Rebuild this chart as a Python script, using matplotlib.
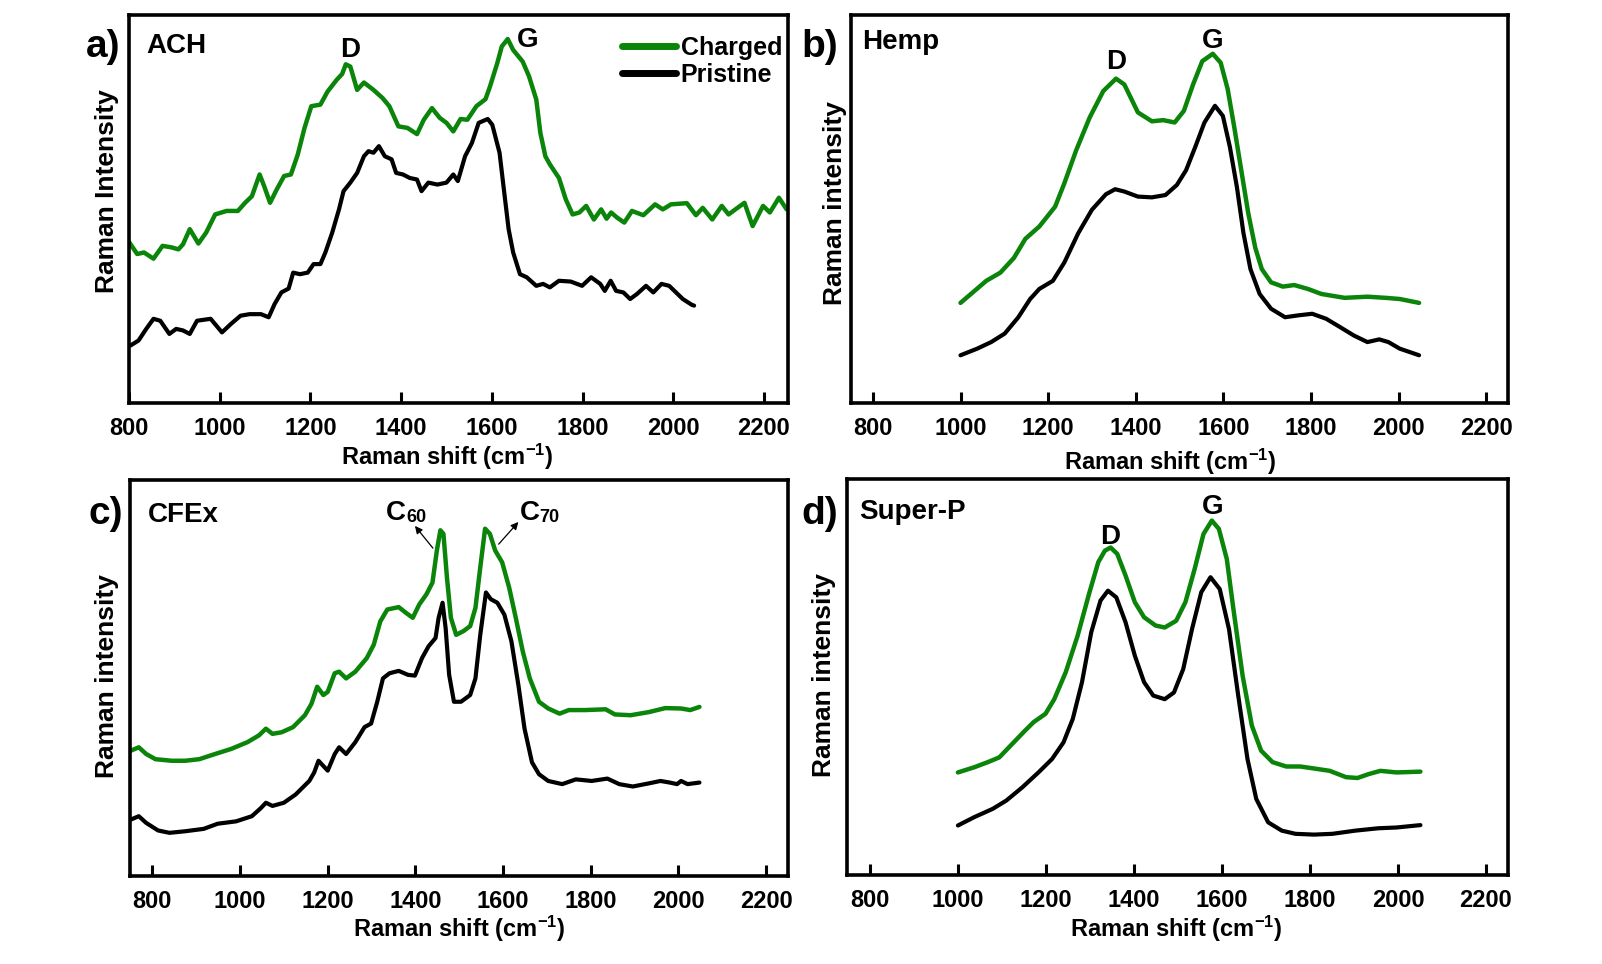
import matplotlib
matplotlib.use("Agg")
import matplotlib.pyplot as plt
from matplotlib.lines import Line2D

plt.rcParams['font.family'] = ['Liberation Sans', 'DejaVu Sans']
plt.rcParams['font.weight'] = 'bold'
plt.rcParams['mathtext.fontset'] = 'custom'
plt.rcParams['mathtext.rm'] = 'Liberation Sans:bold'
plt.rcParams['mathtext.bf'] = 'Liberation Sans:bold'
plt.rcParams['mathtext.default'] = 'bf'

GREEN = '#0a850a'
BLACK = '#000000'

# ---------------- Panel a) ACH ----------------
a_charged_x = [800, 818, 833, 854, 874, 894, 909, 919, 934, 953, 970, 990, 1015, 1040, 1056, 1071, 1088,
               1098, 1111, 1126, 1142, 1157, 1172, 1187, 1202, 1222, 1238, 1258, 1270, 1278, 1288, 1303,
               1318, 1339, 1359, 1374, 1394, 1414, 1435, 1450, 1468, 1485, 1500, 1515, 1531, 1546, 1566,
               1586, 1596, 1612, 1622, 1635, 1647, 1668, 1682, 1698, 1707, 1718, 1728, 1748, 1763, 1778,
               1793, 1808, 1825, 1841, 1853, 1863, 1876, 1892, 1909, 1934, 1960, 1977, 1995, 2030, 2050,
               2065, 2086, 2107, 2122, 2137, 2157, 2175, 2198, 2213, 2233, 2250]
a_charged_y = [41.5, 38.4, 38.8, 37.2, 40.5, 40.1, 39.6, 40.9, 44.8, 41.1, 43.9, 48.6, 49.5, 49.5, 51.6,
               53.3, 58.9, 55.9, 51.6, 55.1, 58.5, 58.9, 64.0, 70.9, 76.5, 76.9, 80.3, 83.3, 84.8, 87.3,
               86.7, 80.7, 82.6, 80.7, 78.6, 76.5, 71.3, 70.9, 69.3, 73.0, 76.0, 73.5, 72.2, 70.0, 73.2,
               73.0, 76.5, 78.3, 81.6, 87.6, 91.9, 93.8, 91.0, 88.0, 84.2, 78.2, 69.6, 63.6, 61.5, 58.0,
               52.5, 48.6, 49.1, 50.8, 47.3, 49.9, 47.5, 49.1, 47.8, 46.5, 49.5, 48.4, 51.2, 49.9, 51.2,
               51.5, 48.4, 50.3, 47.3, 50.8, 48.6, 49.9, 51.6, 45.6, 50.8, 49.1, 52.9, 49.9]
a_pristine_x = [803, 821, 838, 854, 869, 889, 904, 919, 934, 950, 980, 1005, 1025, 1046, 1066, 1091, 1108,
                1121, 1136, 1152, 1162, 1177, 1194, 1207, 1222, 1233, 1248, 1263, 1273, 1288, 1303, 1318,
                1328, 1339, 1351, 1364, 1379, 1389, 1404, 1419, 1435, 1445, 1460, 1480, 1500, 1515, 1525,
                1541, 1556, 1571, 1591, 1601, 1617, 1627, 1637, 1647, 1662, 1677, 1698, 1713, 1728, 1748,
                1774, 1799, 1819, 1839, 1849, 1862, 1874, 1890, 1905, 1920, 1940, 1956, 1974, 1991, 2006,
                2021, 2041, 2046]
a_pristine_y = [14.8, 16.1, 19.1, 21.7, 21.2, 17.8, 19.1, 18.7, 17.8, 21.2, 21.7, 18.2, 20.4, 22.5, 22.9,
                22.9, 22.1, 25.5, 28.5, 29.5, 33.6, 33.2, 33.6, 35.8, 35.8, 38.8, 43.9, 49.9, 54.6, 56.8,
                59.3, 63.6, 64.9, 64.5, 66.2, 63.6, 62.8, 59.3, 58.9, 58.0, 57.6, 54.6, 56.8, 56.3, 56.8,
                58.9, 57.2, 63.6, 67.0, 72.2, 73.2, 71.7, 64.5, 54.6, 44.8, 38.8, 33.2, 32.4, 30.2, 30.7,
                29.8, 31.5, 31.3, 30.2, 32.4, 30.7, 28.9, 31.5, 28.9, 28.5, 26.8, 28.1, 30.2, 28.5, 30.7,
                30.2, 28.5, 26.8, 25.3, 25.1]

# ---------------- Panel b) Hemp ----------------
b_charged_x = [1000, 1028, 1059, 1091, 1122, 1148, 1180, 1216, 1237, 1264, 1295, 1326, 1355, 1374, 1405,
               1437, 1463, 1489, 1510, 1531, 1552, 1576, 1594, 1610, 1625, 1641, 1657, 1673, 1688, 1709,
               1736, 1762, 1793, 1824, 1877, 1929, 1971, 2003, 2047]
b_charged_y = [25.8, 28.5, 31.5, 33.6, 37.4, 42.3, 45.5, 50.6, 56.6, 65.1, 73.6, 80.4, 83.6, 82.1, 74.9,
               72.6, 72.9, 72.3, 75.3, 82.1, 88.1, 90.0, 87.7, 80.9, 71.1, 60.0, 48.9, 40.0, 34.5, 31.1,
               30.0, 30.4, 29.4, 28.1, 27.1, 27.4, 27.1, 26.8, 25.8]
b_pristine_x = [1000, 1038, 1070, 1101, 1132, 1159, 1180, 1211, 1237, 1269, 1300, 1332, 1353, 1374, 1405,
                1437, 1468, 1494, 1515, 1536, 1557, 1581, 1599, 1615, 1631, 1646, 1662, 1683, 1709, 1741,
                1772, 1803, 1835, 1866, 1898, 1929, 1956, 1977, 2003, 2047]
b_pristine_y = [12.3, 14.0, 15.7, 17.9, 22.1, 26.8, 29.4, 31.5, 36.2, 43.8, 49.8, 53.8, 55.1, 54.5, 53.2,
                53.0, 53.6, 56.2, 60.0, 66.0, 72.3, 76.6, 74.0, 66.0, 55.7, 43.8, 34.5, 28.1, 24.3, 22.1,
                22.6, 23.0, 21.7, 19.6, 17.4, 15.7, 16.4, 15.7, 14.0, 12.3]

# ---------------- Panel c) CFEx ----------------
c_charged_x = [752, 769, 786, 807, 844, 875, 907, 943, 980, 1017, 1043, 1059, 1074, 1095, 1121, 1148,
               1163, 1176, 1190, 1200, 1216, 1226, 1242, 1263, 1289, 1305, 1320, 1336, 1362, 1378, 1394,
               1409, 1425, 1439, 1449, 1457, 1464, 1472, 1481, 1493, 1509, 1525, 1537, 1548, 1559, 1570,
               1582, 1598, 1614, 1629, 1645, 1661, 1682, 1703, 1729, 1750, 1787, 1834, 1855, 1891, 1933,
               1970, 2006, 2027, 2048]
c_charged_y = [31.7, 32.5, 30.8, 29.5, 29.1, 29.1, 29.5, 30.8, 32.1, 33.8, 35.5, 37.2, 35.9, 36.3, 37.6,
               40.6, 43.5, 47.8, 45.7, 46.5, 51.2, 51.6, 49.9, 51.6, 55.0, 58.4, 64.3, 67.3, 67.9, 66.5,
               65.2, 68.6, 71.1, 74.1, 82.2, 87.3, 86.4, 75.4, 65.2, 60.9, 61.8, 63.1, 67.7, 77.9, 87.7,
               86.4, 82.2, 79.2, 72.8, 65.2, 56.7, 49.9, 44.0, 42.3, 41.0, 41.9, 41.9, 42.1, 40.8, 40.6,
               41.4, 42.4, 42.3, 41.9, 42.7]
c_pristine_x = [752, 769, 786, 813, 839, 875, 917, 949, 991, 1027, 1048, 1059, 1074, 1100, 1127, 1158,
                1169, 1179, 1200, 1216, 1226, 1242, 1263, 1284, 1299, 1313, 1326, 1341, 1362, 1383, 1399,
                1415, 1430, 1446, 1453, 1462, 1469, 1477, 1488, 1504, 1525, 1537, 1548, 1561, 1572, 1587,
                1603, 1619, 1635, 1649, 1666, 1682, 1703, 1735, 1766, 1802, 1838, 1865, 1896, 1933, 1959,
                1980, 1997, 2006, 2021, 2048]
c_pristine_y = [14.3, 15.1, 13.4, 11.5, 10.9, 11.3, 11.9, 13.2, 13.8, 15.1, 17.2, 18.5, 17.7, 18.5, 20.6,
                24.0, 26.1, 29.1, 26.6, 30.8, 32.5, 30.8, 33.8, 37.6, 38.5, 44.0, 49.9, 51.2, 51.8, 50.8,
                50.6, 55.0, 58.0, 60.1, 65.2, 69.0, 62.6, 50.8, 44.0, 44.0, 45.7, 49.9, 60.9, 71.6, 69.9,
                69.0, 66.0, 59.3, 48.2, 37.2, 28.7, 25.7, 24.0, 23.2, 24.4, 24.0, 24.6, 23.2, 22.6, 23.4,
                24.0, 23.6, 23.2, 24.0, 23.2, 23.6]

# ---------------- Panel d) Super-P ----------------
d_charged_x = [1000, 1037, 1068, 1094, 1120, 1152, 1172, 1199, 1219, 1245, 1272, 1298, 1319, 1334, 1347,
               1362, 1381, 1402, 1423, 1449, 1470, 1496, 1517, 1538, 1558, 1577, 1593, 1611, 1626, 1647,
               1668, 1689, 1715, 1746, 1778, 1809, 1845, 1882, 1908, 1934, 1960, 1997, 2051]
d_charged_y = [25.9, 27.2, 28.5, 29.7, 32.7, 36.4, 38.6, 40.7, 44.4, 51.2, 60.4, 71.0, 79.0, 81.9, 82.7,
               81.1, 75.6, 68.9, 65.1, 63.0, 62.5, 64.2, 68.9, 77.3, 86.1, 89.5, 87.4, 79.8, 67.2, 50.3,
               37.7, 31.4, 28.5, 27.4, 27.4, 26.9, 26.3, 24.7, 24.5, 25.5, 26.3, 25.9, 26.1]
d_pristine_x = [1000, 1037, 1079, 1110, 1146, 1183, 1214, 1240, 1261, 1282, 1303, 1324, 1341, 1360, 1381,
                1402, 1423, 1444, 1470, 1491, 1512, 1532, 1553, 1574, 1595, 1616, 1637, 1658, 1678, 1705,
                1736, 1767, 1809, 1851, 1903, 1955, 1997, 2051]
d_pristine_y = [12.5, 14.6, 16.7, 18.8, 22.1, 25.9, 29.3, 33.5, 39.4, 48.7, 61.3, 69.3, 71.8, 70.1, 63.8,
                55.4, 48.7, 45.3, 44.4, 46.1, 52.0, 62.1, 71.4, 75.2, 72.2, 62.1, 45.3, 29.3, 19.2, 13.3,
                11.2, 10.4, 10.2, 10.4, 11.2, 11.8, 12.0, 12.6]

x_ticks = [800, 1000, 1200, 1400, 1600, 1800, 2000, 2200]
series_labels = ['Charged', 'Pristine']
panel_tags = ['a)', 'b)', 'c)', 'd)']
sample_names = ['ACH', 'Hemp', 'CFEx', 'Super-P']
y_labels = ['Raman Intensity', 'Raman intensity', 'Raman intensity', 'Raman intensity']
x_label = r'Raman shift (cm$^{\mathbf{-1}}$)'

W, H = 1602, 964
fig = plt.figure(figsize=(W / 100, H / 100), dpi=100)


def px_axes(l, t, r, b):
    return fig.add_axes([l / W, 1 - b / H, (r - l) / W, (b - t) / H])


axes_box = [(129, 15, 788, 403), (851, 15, 1508, 403), (130, 480, 788, 876), (847, 479, 1508, 875)]
xlims = [(800, 2253), (750, 2250), (749, 2250), (748, 2250)]
data = [(a_charged_x, a_charged_y, a_pristine_x, a_pristine_y),
        (b_charged_x, b_charged_y, b_pristine_x, b_pristine_y),
        (c_charged_x, c_charged_y, c_pristine_x, c_pristine_y),
        (d_charged_x, d_charged_y, d_pristine_x, d_pristine_y)]
ylabel_pos = [(-0.034, 0.546), (-0.024, 0.515), (-0.035, 0.505), (-0.035, 0.505)]
xlabel_pos = [(0.483, -0.139), (0.486, -0.152), (0.50, -0.134), (0.498, -0.136)]
tag_pos = [(86, 57), (801, 57), (88, 524), (801, 524)]
name_pos = [(146, 53), (862, 49), (148, 522), (859, 519)]

axs = []
for i in range(4):
    ax = px_axes(*axes_box[i])
    axs.append(ax)
    cx, cy, px, py = data[i]
    ax.plot(cx, cy, color=GREEN, lw=3.2, solid_joinstyle='round', solid_capstyle='round')
    ax.plot(px, py, color=BLACK, lw=3.0, solid_joinstyle='round', solid_capstyle='round')
    ax.set_xlim(*xlims[i])
    ax.set_ylim(0, 100)
    ax.set_xticks(x_ticks)
    ax.set_yticks([])
    ax.tick_params(axis='x', direction='in', length=8, width=2.2, labelsize=17, pad=10)
    for lab in ax.get_xticklabels():
        lab.set_fontweight('bold')
    for sp in ax.spines.values():
        sp.set_linewidth(2.6)
    ax.set_ylabel(y_labels[i], fontsize=19, fontweight='bold', va='center')
    ax.yaxis.set_label_coords(*ylabel_pos[i])
    ax.set_xlabel(x_label, fontsize=17, fontweight='bold', va='center')
    ax.xaxis.set_label_coords(*xlabel_pos[i])
    fig.text(tag_pos[i][0] / W, 1 - tag_pos[i][1] / H, panel_tags[i], fontsize=28,
             fontweight='bold', ha='left', va='baseline')
    fig.text(name_pos[i][0] / W, 1 - name_pos[i][1] / H, sample_names[i], fontsize=20,
             fontweight='bold', ha='left', va='baseline')

# peak labels
axs[0].text(1287, 89.2, 'D', fontsize=20, fontweight='bold', ha='center', va='baseline')
axs[0].text(1678, 91.8, 'G', fontsize=20, fontweight='bold', ha='center', va='baseline')
axs[1].text(1355, 86.0, 'D', fontsize=20, fontweight='bold', ha='center', va='baseline')
axs[1].text(1576, 91.5, 'G', fontsize=20, fontweight='bold', ha='center', va='baseline')
axs[3].text(1345, 83.7, 'D', fontsize=20, fontweight='bold', ha='center', va='baseline')
axs[3].text(1580, 91.2, 'G', fontsize=20, fontweight='bold', ha='center', va='baseline')

# C60 / C70 labels with arrows
axc = axs[2]
axc.text(1333, 89.9, 'C', fontsize=20, fontweight='bold', ha='left', va='baseline')
axc.text(1380, 89.4, '60', fontsize=13, fontweight='bold', ha='left', va='baseline')
axc.text(1638, 89.9, 'C', fontsize=20, fontweight='bold', ha='left', va='baseline')
axc.text(1682, 89.4, '70', fontsize=13, fontweight='bold', ha='left', va='baseline')
axc.annotate('', xy=(1399, 88.4), xytext=(1440, 82.8),
             arrowprops=dict(arrowstyle='-|>', color='black', lw=0.9, mutation_scale=11,
                             shrinkA=0, shrinkB=0))
axc.annotate('', xy=(1635, 89.4), xytext=(1590, 83.8),
             arrowprops=dict(arrowstyle='-|>', color='black', lw=0.9, mutation_scale=11,
                             shrinkA=0, shrinkB=0))

# legend in panel a
handles = [Line2D([], [], color=GREEN, lw=5, solid_capstyle='round'),
           Line2D([], [], color=BLACK, lw=5, solid_capstyle='round')]
fig.legend(handles, series_labels, loc='upper left', bbox_to_anchor=(622 / W, 1 - 36 / H),
           bbox_transform=fig.transFigure, frameon=False, borderpad=0, borderaxespad=0,
           handlelength=2.15, handletextpad=0.2, labelspacing=0.12,
           prop={'weight': 'bold', 'size': 18})

fig.savefig('out.png', dpi=100)
